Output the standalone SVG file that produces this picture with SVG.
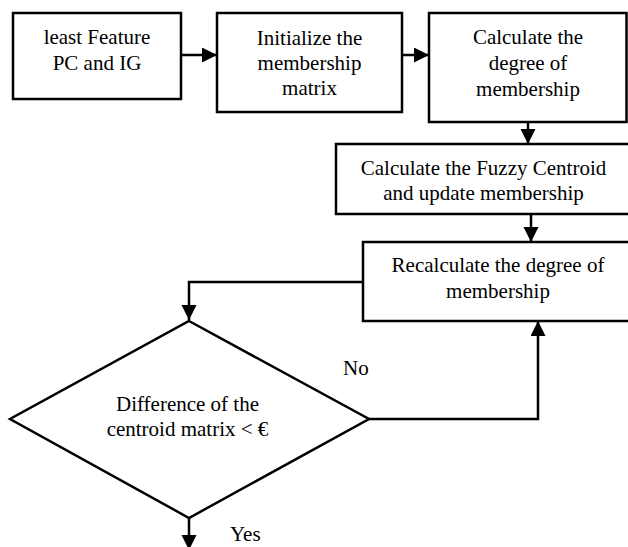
<svg xmlns="http://www.w3.org/2000/svg" width="628" height="547" viewBox="0 0 628 547">
<style>
.box{fill:#fff;stroke:#000;stroke-width:2.5}
.ln{fill:none;stroke:#000;stroke-width:2.5}
.t{font-family:'Liberation Serif','DejaVu Serif',serif;font-size:21px;fill:#000}
.c{text-anchor:middle}
</style>
<defs>
<marker id="ah" markerUnits="userSpaceOnUse" markerWidth="16" markerHeight="16" refX="15" refY="7.5" orient="auto">
<path d="M0,0 L15,7.5 L0,15 z" fill="#000"/>
</marker>
</defs>
<rect width="628" height="547" fill="#fff"/>
<g id="connectors">
<line class="ln" x1="181" y1="55" x2="217" y2="55" marker-end="url(#ah)"/>
<line class="ln" x1="402" y1="55" x2="429" y2="55" marker-end="url(#ah)"/>
<line class="ln" x1="528" y1="122" x2="528" y2="144" marker-end="url(#ah)"/>
<line class="ln" x1="531" y1="214" x2="531" y2="242" marker-end="url(#ah)"/>
<polyline class="ln" points="363,282 189,282 189,320" marker-end="url(#ah)"/>
<polyline class="ln" points="369,419 538,419 538,321" marker-end="url(#ah)"/>
<line class="ln" x1="189" y1="518" x2="189" y2="550" marker-end="url(#ah)"/>
<text class="t" x="343" y="375">No</text>
<text class="t" x="230" y="541">Yes</text>
</g>
<g id="n1">
<rect class="box" x="13" y="13" width="168" height="86"/>
<text class="t c" x="97" y="44">least Feature</text>
<text class="t c" x="97" y="70">PC and IG</text>
</g>
<g id="n2">
<rect class="box" x="217" y="13" width="185" height="99"/>
<text class="t c" x="309.5" y="45">Initialize the</text>
<text class="t c" x="309.5" y="70">membership</text>
<text class="t c" x="309.5" y="95">matrix</text>
</g>
<g id="n3">
<rect class="box" x="429" y="13" width="197.5" height="109"/>
<text class="t c" x="528" y="44">Calculate the</text>
<text class="t c" x="528" y="70">degree of</text>
<text class="t c" x="528" y="96">membership</text>
</g>
<g id="n4">
<rect class="box" x="336" y="144" width="310" height="70"/>
<text class="t c" x="483.5" y="175">Calculate the Fuzzy Centroid</text>
<text class="t c" x="483.5" y="200">and update membership</text>
</g>
<g id="n5">
<rect class="box" x="363" y="242" width="290" height="79"/>
<text class="t c" x="498" y="272">Recalculate the degree of</text>
<text class="t c" x="498" y="298">membership</text>
</g>
<g id="n6">
<polygon class="box" points="189,321 369,419 189,518 10,419"/>
<text class="t c" x="187.5" y="411">Difference of the</text>
<text class="t c" x="187.5" y="436">centroid matrix &lt; €</text>
</g>
</svg>
